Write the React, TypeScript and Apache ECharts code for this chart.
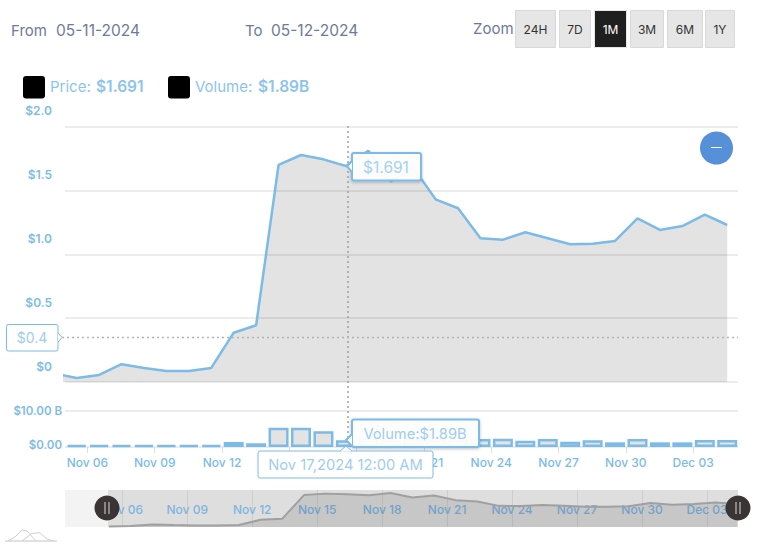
import React, { useEffect, useRef } from "react";
import * as echarts from "echarts";

const days = [4.52, 5.52, 6.52, 7.52, 8.52, 9.52, 10.52, 11.52, 12.52, 13.52, 14.52, 15.52, 16.52, 17.52, 18.52, 19.52, 20.52, 21.52, 22.52, 23.52, 24.52, 25.52, 26.52, 27.52, 28.52, 29.52, 30.52, 31.52, 32.52, 33.52, 34.52];
const price = [0.067, 0.031, 0.055, 0.139, 0.11, 0.086, 0.086, 0.11, 0.386, 0.444, 1.699, 1.777, 1.743, 1.691, 1.81, 1.57, 1.68, 1.43, 1.36, 1.125, 1.114, 1.172, 1.125, 1.078, 1.083, 1.104, 1.281, 1.19, 1.221, 1.31, 1.229];
const volumeDays = days.slice(1);
const volume = [0.5, 0.5, 0.55, 0.5, 0.5, 0.5, 0.5, 1.39, 1.03, 5.36, 5.36, 4.36, 1.89, 2.6, 2.1, 2.3, 2.1, 2.0, 2.2, 2.3, 1.75, 2.2, 1.47, 1.86, 1.3, 2.2, 1.3, 1.3, 1.94, 1.94];
const navDays = days.slice(1).map((d) => +(d - 0.13).toFixed(2));
const navPrice = price.slice(1);
const tickDays = [6, 9, 12, 15, 18, 21, 24, 27, 30, 33];
const mainLabelDays = [6, 9, 12, 21, 24, 27, 30, 33];
const tickLabels: Record<number, string> = { 6: "Nov 06", 9: "Nov 09", 12: "Nov 12", 15: "Nov 15", 18: "Nov 18", 21: "Nov 21", 24: "Nov 24", 27: "Nov 27", 30: "Nov 30", 33: "Dec 03" };
const priceTicks = [0, 0.5, 1, 1.5, 2];
const zoomButtons = [
  { t: "24H", x: 515, w: 40 },
  { t: "7D", x: 559, w: 31 },
  { t: "1M", x: 594, w: 32, on: true },
  { t: "3M", x: 630, w: 33 },
  { t: "6M", x: 667, w: 35 },
  { t: "1Y", x: 705, w: 29 },
];

const FONT = "Inter, 'Noto Sans', sans-serif";
const BLUE = "#7cbbe8";
const SLATE = "#6e7a99";
const GRID = "#e6e6e6";

const txt = (x: number, y: number, text: string, fill: string, fontSize: number, extra: any = {}) => ({
  type: "text",
  x,
  y,
  z: 100,
  silent: true,
  style: { text, fill, fontSize, fontFamily: FONT, textAlign: "left", textVerticalAlign: "middle", ...extra },
});

const box = (x: number, y: number, w: number, h: number, lineWidth: number, shadow: boolean, fill = "rgba(255,255,255,0.94)") => ({
  type: "rect",
  z: 100,
  silent: true,
  shape: { x, y, width: w, height: h, r: 2 },
  style: {
    fill,
    stroke: BLUE,
    lineWidth,
    ...(shadow ? { shadowBlur: 3, shadowColor: "rgba(0,0,0,0.25)", shadowOffsetY: 1 } : {}),
  },
});

const arrow = (pts: number[][]) => ({
  type: "polygon",
  z: 101,
  silent: true,
  shape: { points: pts },
  style: { fill: "#ffffff", stroke: BLUE, lineWidth: 0 },
});
const arrowLine = (pts: number[][], w = 2) => ({
  type: "polyline",
  z: 102,
  silent: true,
  shape: { points: pts },
  style: { fill: "none", stroke: BLUE, lineWidth: w },
});

const handle = (cx: number) => ({
  type: "group",
  z: 110,
  silent: true,
  children: [
    { type: "circle", z: 110, shape: { cx, cy: 508, r: 12.5 }, style: { fill: "#3a3434" } },
    { type: "line", z: 111, shape: { x1: cx - 2, y1: 502, x2: cx - 2, y2: 514 }, style: { stroke: "#d8d8d8", lineWidth: 1 } },
    { type: "line", z: 111, shape: { x1: cx + 2, y1: 502, x2: cx + 2, y2: 514 }, style: { stroke: "#d8d8d8", lineWidth: 1 } },
  ],
});

export default function App() {
  const ref = useRef<HTMLDivElement>(null);
  useEffect(() => {
    const chart = echarts.init(ref.current!, undefined, { renderer: "svg" });
    const graphicEls: any[] = [
      txt(11, 30, "From", SLATE, 15),
      txt(56, 30, "05-11-2024", SLATE, 15.5),
      txt(245, 30, "To", SLATE, 15),
      txt(271, 30, "05-12-2024", SLATE, 15.5),
      txt(473, 28, "Zoom", SLATE, 15),
      ...zoomButtons.flatMap((b) => [
        { type: "rect", z: 100, silent: true, shape: { x: b.x + 0.5, y: 10.5, width: b.w, height: 37 }, style: { fill: b.on ? "#1f1f1f" : "#e6e6e6", stroke: b.on ? "#e6e6e6" : "#d9d9d9", lineWidth: 1 } },
        txt(b.x + b.w / 2 + 0.5, 29.5, b.t, b.on ? "#ffffff" : "#333333", 12, { textAlign: "center" }),
      ]),
      { type: "rect", z: 100, silent: true, shape: { x: 23, y: 76, width: 22, height: 22.5, r: 3 }, style: { fill: "#000000" } },
      { type: "rect", z: 100, silent: true, shape: { x: 168, y: 76, width: 22, height: 22.5, r: 3 }, style: { fill: "#000000" } },
      txt(50, 86.5, "Price:", "#8cc4ec", 15),
      txt(96, 86.5, "$1.691", "#8cc4ec", 15.5, { fontWeight: 600 }),
      txt(195, 86.5, "Volume:", "#8cc4ec", 15),
      txt(258, 86.5, "$1.89B", "#8cc4ec", 15.5, { fontWeight: 600 }),
      { type: "circle", z: 100, silent: true, shape: { cx: 716.5, cy: 148, r: 16.5 }, style: { fill: "#5590d8" } },
      { type: "line", z: 101, silent: true, shape: { x1: 711, y1: 147.5, x2: 722, y2: 147.5 }, style: { stroke: "#ffffff", lineWidth: 1 } },
      // crosshair
      { type: "line", z: 50, silent: true, shape: { x1: 348, y1: 126, x2: 348, y2: 446 }, style: { stroke: "#a0a0a0", lineWidth: 1.5, lineDash: [2, 3] } },
      { type: "line", z: 50, silent: true, shape: { x1: 62, y1: 337.5, x2: 738, y2: 337.5 }, style: { stroke: "#b4b4b4", lineWidth: 1.5, lineDash: [2, 3] } },
      // price tooltip
      box(352, 153, 69, 27.5, 2, true),
      arrow([[347, 166.5], [352, 161], [352, 172]]),
      arrowLine([[352, 161], [347, 166.5], [352, 172]]),
      txt(386, 167, "$1.691", "#a5d2f0", 15.5, { textAlign: "center" }),
      // volume tooltip
      box(352, 419.5, 127, 27.5, 2, true),
      arrow([[346, 440], [352, 434], [352, 446]]),
      arrowLine([[352, 434], [346, 440], [352, 446]]),
      txt(415, 433.5, "Volume:$1.89B", "#9fcdee", 14.7, { textAlign: "center" }),
      // date tooltip
      box(258, 451, 175, 27, 1, false, "#ffffff"),
      arrow([[340, 451.5], [346, 446], [352, 451.5]]),
      arrowLine([[340, 451], [346, 446], [352, 451]], 1),
      txt(345.5, 464.5, "Nov 17,2024 12:00 AM", "#9fcdee", 14.7, { textAlign: "center" }),
      // y-value tooltip
      box(6.5, 324.5, 51.5, 26.5, 1, false, "#ffffff"),
      arrow([[62, 337.5], [58, 333], [58, 342]]),
      arrowLine([[58, 333], [62, 337.5], [58, 342]], 1),
      txt(32, 337.5, "$0.4", "#9fcdee", 14, { textAlign: "center" }),
      // navigator backdrop
      { type: "rect", z: -10, silent: true, shape: { x: 65, y: 490, width: 43, height: 37 }, style: { fill: "#f3f3f3" } },
      { type: "rect", z: -10, silent: true, shape: { x: 108, y: 490, width: 630, height: 37 }, style: { fill: "#dedede" } },
      handle(107),
      handle(738),
      // corner logo
      { type: "line", z: 100, silent: true, shape: { x1: 5, y1: 541, x2: 57, y2: 541 }, style: { stroke: "#c4c4c4", lineWidth: 1 } },
      { type: "polyline", z: 100, silent: true, shape: { points: [[8, 541], [15, 537], [22, 530], [27, 531], [36, 541]] }, style: { fill: "none", stroke: "#cfcfcf", lineWidth: 1 } },
      { type: "polyline", z: 100, silent: true, shape: { points: [[22, 541], [31, 534], [35, 533], [40, 533], [47, 539], [53, 541]] }, style: { fill: "none", stroke: "#cfcfcf", lineWidth: 1 } },
    ];

    chart.setOption({
      animation: false,
      textStyle: { fontFamily: FONT },
      grid: [
        { left: 65, top: 126.5, width: 673, height: 255.5 },
        { left: 65, top: 411, width: 673, height: 36 },
        { left: 65, top: 490, width: 673, height: 37 },
      ],
      xAxis: [
        { gridIndex: 0, type: "value", min: 5, max: 35, axisLine: { show: false }, axisTick: { show: false }, axisLabel: { show: false }, splitLine: { show: false } },
        {
          gridIndex: 1, type: "value", min: 5, max: 35,
          axisLine: { show: false },
          axisTick: { show: true, length: 6, lineStyle: { color: "#dddddd" }, customValues: tickDays },
          axisLabel: { customValues: mainLabelDays, formatter: (v: number) => tickLabels[v] ?? "", color: BLUE, fontSize: 12, fontWeight: 500, margin: 9, fontFamily: FONT, hideOverlap: false },
          splitLine: { show: false },
        },
        {
          gridIndex: 2, type: "value", min: 3.355, max: 34.43,
          axisLine: { show: false },
          axisTick: { show: false, customValues: tickDays },
          axisLabel: { customValues: tickDays, formatter: (v: number) => tickLabels[v] ?? "", color: "#7fb5e0", fontSize: 12, fontWeight: 500, margin: -24, fontFamily: FONT, hideOverlap: false },
          splitLine: { show: true, lineStyle: { color: "rgba(0,0,0,0.07)", width: 1 } },
        },
      ],
      yAxis: [
        {
          gridIndex: 0, type: "value", min: 0, max: 2, interval: 0.5,
          axisLine: { show: false }, axisTick: { show: false },
          axisLabel: { color: BLUE, fontSize: 12, fontWeight: 600, margin: 13, verticalAlign: "bottom", padding: [0, 0, 10, 0], fontFamily: FONT, formatter: (v: number) => (v === 0 ? "$0" : `$${v.toFixed(1)}`), customValues: priceTicks },
          splitLine: { lineStyle: { color: GRID, width: 1.5 } },
        },
        {
          gridIndex: 1, type: "value", min: 0, max: 10, interval: 10,
          axisLine: { show: false }, axisTick: { show: false },
          axisLabel: {
            color: BLUE, fontSize: 11.5, fontWeight: 600, margin: 3, fontFamily: FONT,
            formatter: (v: number) => (v === 0 ? "{z|$0.00}" : `$${v.toFixed(2)} B`),
            rich: { z: { color: BLUE, fontSize: 11.5, fontWeight: 600, fontFamily: FONT, padding: [0, 0, 4, 0] } },
          },
          splitLine: { lineStyle: { color: GRID, width: 1.5 } },
        },
        { gridIndex: 2, type: "value", min: 0, max: 1.97, axisLine: { show: false }, axisTick: { show: false }, axisLabel: { show: false }, splitLine: { show: false } },
      ],
      series: [
        {
          name: "Price", type: "line", xAxisIndex: 0, yAxisIndex: 0, clip: true, symbol: "none",
          data: days.map((d, i) => [d, price[i]]),
          lineStyle: { color: BLUE, width: 2.5 },
          areaStyle: { color: "rgba(0,0,0,0.11)", opacity: 1 },
        },
        {
          name: "Volume", type: "bar", xAxisIndex: 1, yAxisIndex: 1, barWidth: 20,
          data: volumeDays.map((d, i) => [d, volume[i]]),
          itemStyle: { color: "#e3e3e3", borderColor: BLUE, borderWidth: 2.5 },
        },
        {
          name: "Navigator", type: "line", xAxisIndex: 2, yAxisIndex: 2, clip: true, symbol: "none",
          data: navDays.map((d, i) => [d, navPrice[i]]),
          lineStyle: { color: "#a0a0a0", width: 2 },
          areaStyle: { color: "rgba(0,0,0,0.1)", opacity: 1 },
        },
      ],
      graphic: graphicEls,
    });
    return () => chart.dispose();
  }, []);
  return <div ref={ref} style={{ position: "absolute", left: 0, top: 0, width: 760, height: 548 }} />;
}
